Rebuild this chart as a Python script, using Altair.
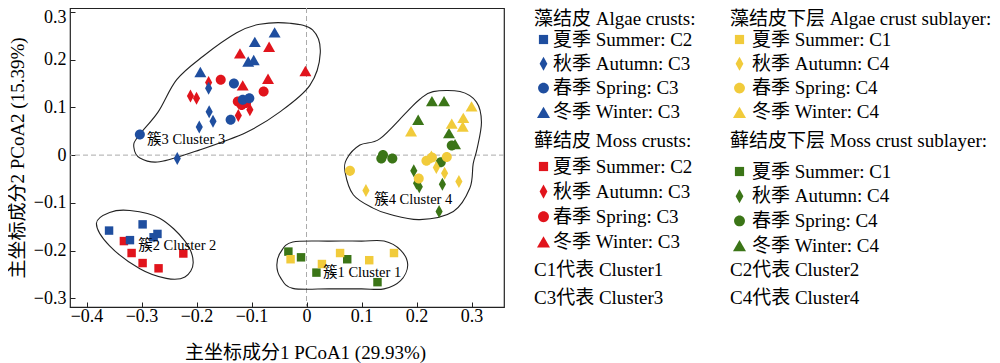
import altair as alt
import pandas as pd

FONT = "Liberation Serif, Noto Sans CJK SC"

# ---------------- data (PCoA1, PCoA2) ----------------
SEASONS = ["summer", "autumn", "spring", "winter"]

# 藻结皮 Algae crusts (blue)
algae_summer_x = [-0.359, -0.298, -0.321, -0.278, -0.271]
algae_summer_y = [-0.158, -0.145, -0.178, -0.172, -0.165]
algae_autumn_x = [-0.178, -0.177, -0.170, -0.195, -0.235]
algae_autumn_y = [0.140, 0.091, 0.071, 0.059, -0.007]
algae_spring_x = [-0.132, -0.116, -0.104, -0.138, -0.303]
algae_spring_y = [0.150, 0.116, 0.119, 0.074, 0.043]
algae_winter_x = [-0.058, -0.094, -0.106, -0.096, -0.193]
algae_winter_y = [0.257, 0.237, 0.196, 0.199, 0.174]

# 藓结皮 Moss crusts (red)
moss_summer_x = [-0.332, -0.318, -0.298, -0.269, -0.224]
moss_summer_y = [-0.180, -0.205, -0.226, -0.237, -0.206]
moss_autumn_x = [-0.211, -0.200, -0.178, -0.103, -0.124]
moss_autumn_y = [0.124, 0.119, 0.152, 0.095, 0.083]
moss_spring_x = [-0.156, -0.078, -0.125, -0.118, -0.110]
moss_spring_y = [0.158, 0.133, 0.112, 0.105, 0.109]
moss_winter_x = [-0.121, -0.068, -0.070, -0.002, -0.116]
moss_winter_y = [0.213, 0.227, 0.160, 0.176, 0.146]

# 藻结皮下层 Algae crust sublayer (yellow)
asub_summer_x = [-0.029, 0.028, 0.061, 0.114, 0.159]
asub_summer_y = [-0.218, -0.228, -0.205, -0.220, -0.205]
asub_autumn_x = [0.108, 0.236, 0.251, 0.277, 0.227]
asub_autumn_y = [-0.074, -0.026, -0.038, -0.055, -0.004]
asub_spring_x = [0.079, 0.204, 0.255, 0.218, 0.228]
asub_spring_y = [-0.033, -0.049, -0.004, -0.012, -0.005]
asub_winter_x = [0.300, 0.285, 0.264, 0.284, 0.190]
asub_winter_y = [0.102, 0.078, 0.066, 0.060, 0.050]

# 藓结皮下层 Moss crust sublayer (green)
msub_summer_x = [-0.033, -0.010, 0.018, 0.074, 0.129]
msub_summer_y = [-0.202, -0.214, -0.246, -0.218, -0.266]
msub_autumn_x = [0.195, 0.200, 0.205, 0.247, 0.241]
msub_autumn_y = [-0.033, -0.059, -0.066, -0.061, -0.118]
msub_spring_x = [0.139, 0.136, 0.156, 0.244, 0.264]
msub_spring_y = [0.000, -0.007, -0.007, -0.015, 0.020]
msub_winter_x = [0.228, 0.250, 0.203, 0.259, 0.270]
msub_winter_y = [0.113, 0.113, 0.074, 0.046, 0.023]

# legend labels
algae_labels = ["夏季 Summer: C2", "秋季 Autumn: C3", "春季 Spring: C3", "冬季 Winter: C3"]
moss_labels = ["夏季 Summer: C2", "秋季 Autumn: C3", "春季 Spring: C3", "冬季 Winter: C3"]
asub_labels = ["夏季 Summer: C1", "秋季 Autumn: C4", "春季 Spring: C4", "冬季 Winter: C4"]
msub_labels = ["夏季 Summer: C1", "秋季 Autumn: C4", "春季 Spring:  C4", "冬季 Winter: C4"]

# cluster outlines (traced control points, data units)
c1_x = [-0.054, -0.047, -0.025, 0.042, 0.100, 0.141, 0.171, 0.184, 0.171, 0.141, 0.100, 0.042, -0.025, -0.047]
c1_y = [-0.230, -0.203, -0.182, -0.180, -0.180, -0.180, -0.199, -0.230, -0.263, -0.280, -0.280, -0.280, -0.279, -0.257]
c2_x = [-0.382, -0.358, -0.321, -0.267, -0.221, -0.206, -0.221, -0.255, -0.303, -0.358]
c2_y = [-0.143, -0.120, -0.116, -0.132, -0.180, -0.225, -0.255, -0.258, -0.238, -0.190]
c3_x = [-0.314, -0.303, -0.267, -0.194, -0.109, -0.049, 0.006, 0.025, 0.011, -0.030, -0.085, -0.127, -0.188, -0.236, -0.270, -0.307]
c3_y = [0.017, -0.006, -0.014, 0.011, 0.048, 0.090, 0.146, 0.214, 0.262, 0.276, 0.274, 0.256, 0.207, 0.158, 0.090, 0.038]
c4_x = [0.230, 0.279, 0.309, 0.318, 0.310, 0.303, 0.297, 0.267, 0.206, 0.151, 0.121, 0.085, 0.070, 0.073, 0.097, 0.133, 0.182, 0.206]
c4_y = [0.133, 0.133, 0.111, 0.069, 0.013, -0.018, -0.069, -0.118, -0.135, -0.124, -0.111, -0.083, -0.035, -0.008, 0.021, 0.034, 0.090, 0.117]

cluster_text = ["簇1 Cluster 1", "簇2 Cluster 2", "簇3 Cluster 3", "簇4 Cluster 4"]
cluster_text_x = [0.030, -0.306, -0.290, 0.123]
cluster_text_y = [-0.246, -0.190, 0.032, -0.093]
notes = ["C1代表 Cluster1", "C2代表 Cluster2", "C3代表 Cluster3", "C4代表 Cluster4"]
notes_order = ["C1代表 Cluster1", "C3代表 Cluster3", "C2代表 Cluster2", "C4代表 Cluster4"]

x_ticks = [-0.4, -0.3, -0.2, -0.1, 0, 0.1, 0.2, 0.3]
y_ticks = [-0.3, -0.2, -0.1, 0, 0.1, 0.2, 0.3]

# ---------------- styling ----------------
BLUE, RED, YELLOW, GREEN = "#1F4E9F", "#E1141C", "#F1CB3B", "#3B7517"
SQUARE = "M-0.65,-0.65L0.65,-0.65L0.65,0.65L-0.65,0.65Z"
DIAMOND = "M0,-1L0.55,0L0,1L-0.55,0Z"
CIRCLE = "M0.77,0A0.77,0.77 0 1,1 -0.77,0A0.77,0.77 0 1,1 0.77,0Z"
TRIANGLE = "M0,-0.8L0.92,0.8L-0.92,0.8Z"
SHAPES = [SQUARE, DIAMOND, CIRCLE, TRIANGLE]

x_enc = alt.X(
    "x:Q",
    scale=alt.Scale(domain=[-0.43, 0.359], nice=False, zero=False),
    axis=alt.Axis(values=x_ticks, format=".1~f", title="主坐标成分1 PCoA1 (29.93%)",
                  labelPadding=0, titleX=235, titleY=50, titleBaseline="middle",
                  titleAlign="center"),
)
y_enc = alt.Y(
    "y:Q",
    scale=alt.Scale(domain=[-0.318, 0.308], nice=False, zero=False),
    axis=alt.Axis(values=y_ticks, format=".1~f", title="主坐标成分2 PCoA2 (15.39%)",
                  labelPadding=4, titleX=-58, titleBaseline="middle",
                  labelFlush=7, labelFlushOffset=3.5),
)


def group_layer(xs_list, ys_list, labels, color, title, lx, ly, loff, rowpad, tpad):
    rows = []
    for season, lab, xs, ys in zip(SEASONS, labels, xs_list, ys_list):
        for xv, yv in zip(xs, ys):
            rows.append({"x": xv, "y": yv, "label": lab, "season": season})
    df = pd.DataFrame(rows)
    leg = alt.Legend(title=title, orient="none", legendX=lx, legendY=ly, direction="vertical",
                     labelOffset=loff, rowPadding=rowpad, titlePadding=tpad, symbolSize=200,
                     symbolStrokeWidth=0, symbolFillColor=color)
    return alt.Chart(df).mark_point(filled=True, opacity=1, color=color, strokeWidth=0,
                                    size=169).encode(
        x=x_enc, y=y_enc,
        shape=alt.Shape("label:N", scale=alt.Scale(domain=labels, range=SHAPES), legend=leg),
    )


moss = group_layer([moss_summer_x, moss_autumn_x, moss_spring_x, moss_winter_x],
                   [moss_summer_y, moss_autumn_y, moss_spring_y, moss_winter_y],
                   moss_labels, RED, "藓结皮 Moss crusts:", 464, 124, 0, 5.1, 6)
algae = group_layer([algae_summer_x, algae_autumn_x, algae_spring_x, algae_winter_x],
                    [algae_summer_y, algae_autumn_y, algae_spring_y, algae_winter_y],
                    algae_labels, BLUE, "藻结皮 Algae crusts:", 464, 2, 0, 4.3, 1)
msub = group_layer([msub_summer_x, msub_autumn_x, msub_spring_x, msub_winter_x],
                   [msub_summer_y, msub_autumn_y, msub_spring_y, msub_winter_y],
                   msub_labels, GREEN, "藓结皮下层 Moss crust sublayer:", 660, 124, 3, 4.7, 11)
asub = group_layer([asub_summer_x, asub_autumn_x, asub_spring_x, asub_winter_x],
                   [asub_summer_y, asub_autumn_y, asub_spring_y, asub_winter_y],
                   asub_labels, YELLOW, "藻结皮下层 Algae crust sublayer:", 660, 2, 3, 4.3, 1)

# outlines
orows = []
for name, xs, ys in [("c1", c1_x, c1_y), ("c2", c2_x, c2_y), ("c3", c3_x, c3_y), ("c4", c4_x, c4_y)]:
    for i, (xv, yv) in enumerate(zip(xs, ys)):
        orows.append({"cluster": name, "idx": i, "x": xv, "y": yv})
outline = alt.Chart(pd.DataFrame(orows)).mark_line(
    interpolate="cardinal-closed", color="#222222", strokeWidth=1.1
).encode(x=x_enc, y=y_enc, detail="cluster:N", order="idx:Q")

# dashed zero lines
rule_v = alt.Chart(pd.DataFrame({"x": [0]})).mark_rule(
    color="#aaaaaa", strokeDash=[5, 3], strokeWidth=1).encode(x=x_enc)
rule_h = alt.Chart(pd.DataFrame({"y": [0]})).mark_rule(
    color="#aaaaaa", strokeDash=[5, 3], strokeWidth=1).encode(y=y_enc)

# cluster labels + notes legend
tdf = pd.DataFrame({"x": cluster_text_x, "y": cluster_text_y, "t": cluster_text, "note": notes})
labels_layer = alt.Chart(tdf).mark_text(
    align="left", baseline="middle", fontSize=14.5, font=FONT, color="black"
).encode(
    x=x_enc, y=y_enc, text="t:N",
    opacity=alt.Opacity("note:N", scale=alt.Scale(domain=notes_order, range=[1, 1, 1, 1]),
                        legend=alt.Legend(title=None, orient="none", legendX=445, legendY=252.5,
                                          columns=2, columnPadding=47, rowPadding=7.7,
                                          symbolSize=0, symbolOpacity=0, symbolStrokeWidth=0,
                                          labelOffset=0)),
)

chart = alt.layer(rule_v, rule_h, outline, moss, algae, msub, asub, labels_layer).resolve_scale(
    shape="independent"
).properties(
    width=434, height=299,
    autosize=alt.AutoSizeParams(type="none"),
    padding={"left": 62, "top": 0, "right": 488, "bottom": 56},
).configure(font=FONT).configure_view(
    stroke="#222222", strokeWidth=1.2
).configure_axis(
    labelFont=FONT, titleFont=FONT, labelFontSize=18, titleFontSize=19,
    labelColor="black", titleColor="black", titleFontWeight="normal",
    tickColor="#222222", tickSize=5, tickWidth=1, grid=False, domain=False, offset=-5,
).configure_legend(
    labelFont=FONT, titleFont=FONT, labelFontSize=19, titleFontSize=19,
    labelColor="black", titleColor="black", titleFontWeight="normal",
    labelLimit=500, titleLimit=500,
)

chart.save("out.html", embed_options={"renderer": "svg", "actions": False})
